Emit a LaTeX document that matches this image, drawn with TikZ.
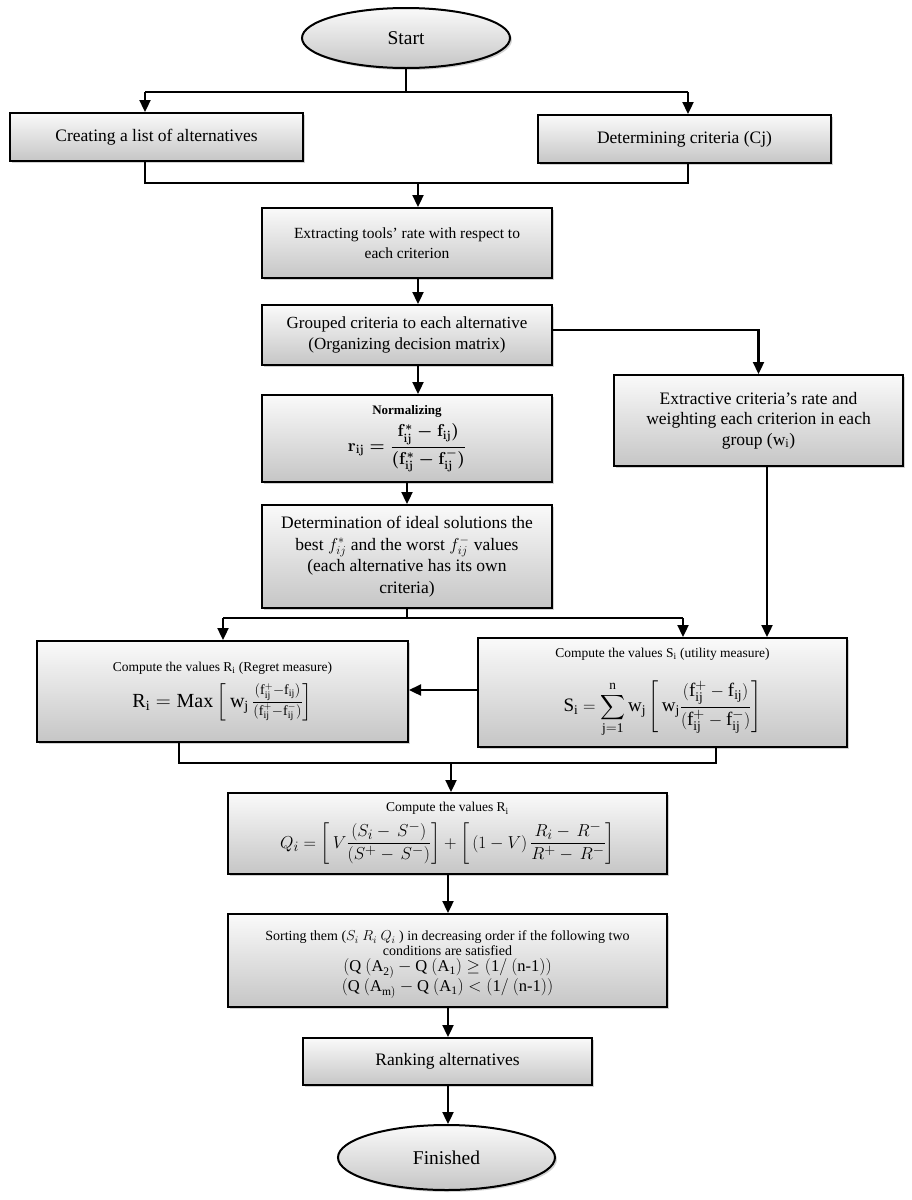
\documentclass[tikz,border=0pt]{standalone}
\usepackage{amsmath}
\usepackage{fontspec}
\setmainfont{Liberation Serif}
\usetikzlibrary{shapes.geometric,shadows,arrows.meta}
\begin{document}
\begin{tikzpicture}[x=1pt,y=-1pt,
  shade/.style={top color=gray!4, bottom color=gray!45,
    drop shadow={shadow xshift=2pt,shadow yshift=-2pt,opacity=0.35}},
  box/.style={draw=black, line width=2pt, shade, align=center, inner sep=2pt,
    font=\fontsize{17.5}{21}\selectfont},
  oval/.style={ellipse, draw=black, line width=2pt, shade, inner sep=0pt,
    font=\fontsize{19.5}{21}\selectfont},
  arr/.style={line width=2.3pt, -{Triangle[length=12pt,width=11pt]}},
  ln/.style={line width=2.3pt}]
\path[fill=white,use as bounding box] (0,0) rectangle (911,1200);

% nodes
\node[oval, minimum width=208pt, minimum height=60pt] (start) at (406,38) {Start};
\node[box, minimum width=293pt, minimum height=48pt] (alt) at (156.5,137) {Creating a list of alternatives};
\node[box, minimum width=293pt, minimum height=48pt] (crit) at (684.5,139) {Determining criteria (Cj)};
\node[box, minimum width=290pt, minimum height=70pt, font=\fontsize{15.5}{20}\selectfont] (extr) at (407,243) {Extracting tools’ rate with respect to\\ each criterion};
\node[box, minimum width=290pt, minimum height=60pt, font=\fontsize{17}{21}\selectfont] (grp) at (407,335) {Grouped criteria to each alternative\\ (Organizing decision matrix)};
\node[box, minimum width=289pt, minimum height=91pt, font=\fontsize{17.5}{20.5}\selectfont] (extv) at (758.5,420.5) {Extractive criteria’s rate and\\ weighting each criterion in each\\ group (w\textsubscript{i})};
\node[box, minimum width=290pt, minimum height=87pt] (norm) at (407,438.5)
  {{\fontsize{13}{15}\selectfont\bfseries Normalizing}\\[6pt]
   {\fontsize{17}{20}\selectfont\boldmath $\mathbf{r_{ij}} = \dfrac{\mathbf{f_{ij}^{*} - f_{ij})}}{\mathbf{(f_{ij}^{*} - f_{ij}^{-})}}$}};
\node[box, minimum width=290pt, minimum height=103pt, font=\fontsize{17.5}{21.5}\selectfont] (det) at (407,556.5)
  {Determination of ideal solutions the\\ best $f_{ij}^{*}$ and the worst $f_{ij}^{-}$ values\\ (each alternative has its own\\ criteria)};
\node[box, minimum width=371pt, minimum height=101pt] (R) at (222.5,691.5)
  {{\fontsize{13.5}{16}\selectfont Compute the values R\textsubscript{i} (Regret measure)}\\[8pt]
   {\fontsize{20}{24}\selectfont $\mathrm{R_i = Max\left[\,w_j\,\frac{(f_{ij}^{+}-f_{ij})}{(f_{ij}^{+}-f_{ij}^{-})}\right]}$}};
\node[box, minimum width=369pt, minimum height=109pt] (S) at (662.5,692.5)
  {{\fontsize{13.5}{16}\selectfont Compute the values S\textsubscript{i} (utility measure)}\\[20pt]
   {\fontsize{19}{22}\selectfont $\displaystyle\mathrm{S_i = \sum_{j=1}^{n} w_j \left[\, w_j \frac{(f_{ij}^{+}-f_{ij})}{(f_{ij}^{+}-f_{ij}^{-})}\right]}$}};
\node[box, minimum width=439pt, minimum height=81pt] (Q) at (447.5,833.5)
  {{\fontsize{13.5}{16}\selectfont Compute the values R\textsubscript{i}}\\[6pt]
   {\fontsize{19}{22}\selectfont $\displaystyle Q_i=\left[\,V\frac{(S_i-\,S^-)}{(S^+-\,S^-)}\right]+\left[\,(1-V)\,\frac{R_i-\,R^-}{R^+-\,R^-}\right]$}};
\node[box, minimum width=439pt, minimum height=93pt, font=\fontsize{14}{15}\selectfont] (sort) at (447.5,960.5)
  {\rule{0pt}{18pt}Sorting them ($S_i\ R_i\ Q_i$ ) in decreasing order if the following two\\
   conditions are satisfied\\[1pt]
   {\fontsize{16.5}{15.5}\selectfont $\mathrm{(Q\ (A_{2)} - Q\ (A_1) \geq (1/\ (n\text{-}1))}$}\\[0pt]
   {\fontsize{16.5}{15.5}\selectfont $\mathrm{(Q\ (A_{m)} - Q\ (A_1) < (1/\ (n\text{-}1))}$}};
\node[box, minimum width=289pt, minimum height=47pt] (rank) at (447.5,1061.5) {Ranking alternatives};
\node[oval, minimum width=217pt, minimum height=65pt] (fin) at (446.5,1157.5) {Finished};

% junction coordinates
\coordinate (a1) at (145,92);
\coordinate (a2) at (688,92);
\coordinate (b1) at (145,183);
\coordinate (b2) at (688,183);
\coordinate (b3) at (418,183);
\coordinate (c0) at (407,618);
\coordinate (c1) at (223,618);
\coordinate (c2) at (683,618);
\coordinate (c3) at (767,500);
\coordinate (g1) at (0,330);
\coordinate (h1) at (0,690);
\coordinate (d1) at (179,763);
\coordinate (d2) at (716,763);
\coordinate (d3) at (451,763);
\coordinate (e1) at (448,900);

% connectors
\draw[ln] (start.south) -- (start.south |- a1);
\draw[ln] (a1) -- (a2);
\draw[arr] (a1) -- (a1 |- alt.north);
\draw[arr] (a2) -- (a2 |- crit.north);
\draw[ln] (b1 |- alt.south) -- (b1) -- (b2) -- (b2 |- crit.south);
\draw[arr] (b3) -- (b3 |- extr.north);
\draw[arr] (extr.south -| b3) -- (grp.north -| b3);
\draw[arr] (grp.south -| b3) -- (norm.north -| b3);
\draw[arr] (grp.east |- g1) -| (extv.north);
\draw[arr] (norm.south) -- (det.north);
\draw[ln] (det.south) -- (c0);
\draw[ln] (c1) -- (c2);
\draw[arr] (c1) -- (c1 |- R.north);
\draw[arr] (c2) -- (c2 |- S.north);
\draw[arr] (extv.south -| c3) -- (S.north -| c3);
\draw[arr] (S.west |- h1) -- (R.east |- h1);
\draw[ln] (d1 |- R.south) -- (d1) -- (d2) -- (d2 |- S.south);
\draw[arr] (d3) -- (d3 |- Q.north);
\draw[arr] (Q.south -| e1) -- (sort.north -| e1);
\draw[arr] (sort.south -| e1) -- (rank.north -| e1);
\draw[arr] (rank.south -| e1) -- (fin.north -| e1);
\end{tikzpicture}
\end{document}
